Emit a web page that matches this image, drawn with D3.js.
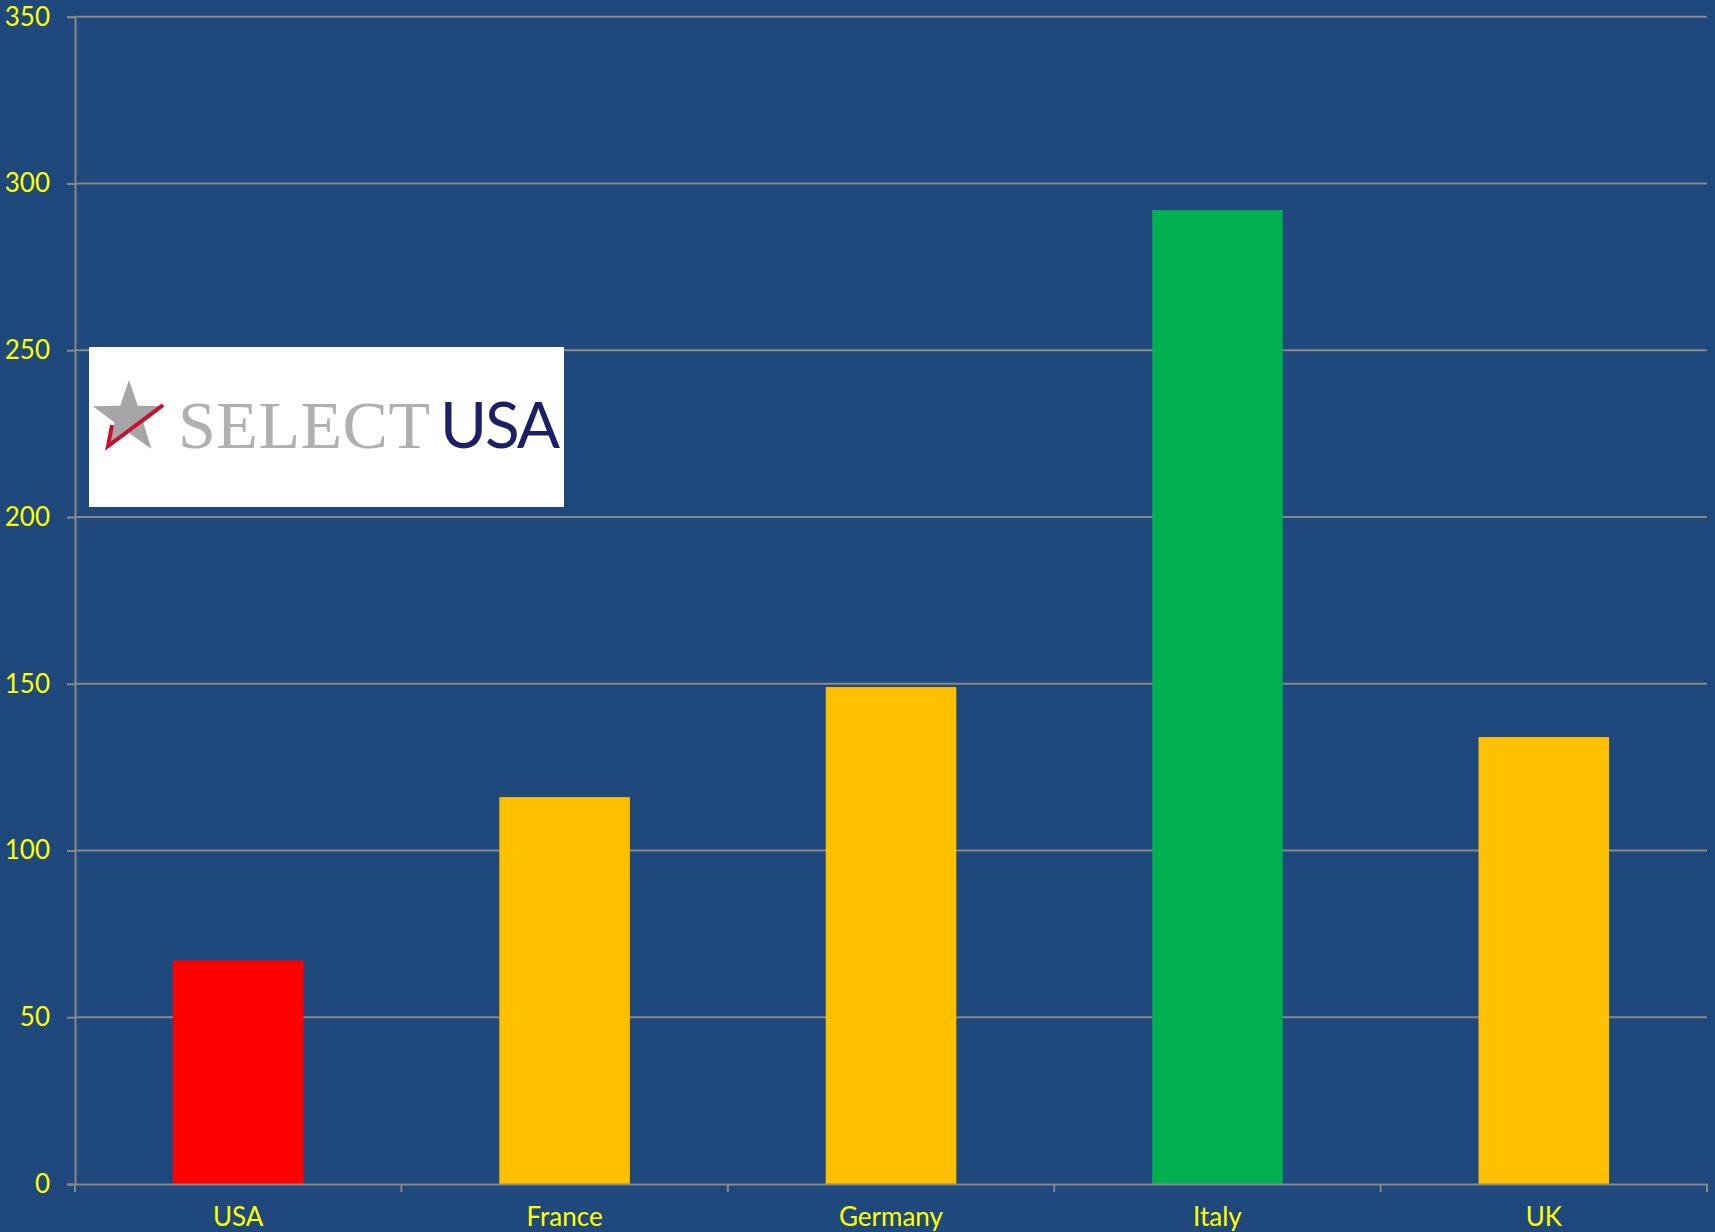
<!DOCTYPE html>
<html>
<head>
<meta charset="utf-8">
<script src="https://cdn.jsdelivr.net/npm/d3@7"></script>
<style>
body { margin: 0; background: #1f497d; }
</style>
</head>
<body>
<script>
var countries = ["USA", "France", "Germany", "Italy", "UK"];
var values = [67, 116, 149, 292, 134];
var yTicks = [0, 50, 100, 150, 200, 250, 300, 350];

var barColor = { "USA": "#ff0000", "Italy": "#00b050" };

var width = 1715, height = 1232;
var margin = { top: 16.7, right: 8, bottom: 48, left: 75 };

var svg = d3.select("body").append("svg")
    .attr("width", width)
    .attr("height", height);

svg.append("rect")
    .attr("width", width)
    .attr("height", height)
    .attr("fill", "#1f497d");

var x = d3.scaleBand()
    .domain(countries)
    .range([margin.left, width - margin.right])
    .paddingInner(0.6)
    .paddingOuter(0.3);

var y = d3.scaleLinear()
    .domain([0, 350])
    .range([height - margin.bottom, margin.top]);

// gridlines + y axis
var yAxis = svg.append("g")
    .attr("transform", "translate(" + margin.left + ",0)")
    .call(d3.axisLeft(y).tickValues(yTicks).tickSize(8).tickPadding(17).tickFormat(d3.format("d")));

yAxis.select(".domain").attr("stroke", "#888").attr("stroke-width", 2);
yAxis.selectAll(".tick line").attr("stroke", "#888").attr("stroke-width", 2);
yAxis.selectAll(".tick text")
    .attr("fill", "#ffff00")
    .attr("font-family", "Lato, 'Open Sans', sans-serif")
    .attr("font-size", 26);

svg.append("g").selectAll("line")
    .data(yTicks.filter(function(d) { return d > 0; }))
    .join("line")
    .attr("x1", margin.left)
    .attr("x2", width - margin.right)
    .attr("y1", function(d) { return y(d); })
    .attr("y2", function(d) { return y(d); })
    .attr("stroke", "#888")
    .attr("stroke-width", 2);

// logo box
var logo = svg.append("g");
logo.append("rect")
    .attr("x", 89).attr("y", 347)
    .attr("width", 475).attr("height", 160)
    .attr("fill", "#ffffff");

var star = d3.range(10).map(function(i) {
  var r = i % 2 == 0 ? 38 : 15;
  var a = Math.PI * i / 5;
  return [129 + r * Math.sin(a), 418 - r * Math.cos(a)];
});
logo.append("path")
    .attr("d", d3.line()(star) + "Z")
    .attr("fill", "#a6a6a8");
logo.append("path")
    .attr("d", "M163,405 L108,446 L112,425")
    .attr("fill", "none")
    .attr("stroke", "#c8102e")
    .attr("stroke-width", 4)
    .attr("stroke-linejoin", "miter");
logo.append("text")
    .attr("x", 178).attr("y", 448)
    .attr("font-family", "'Liberation Serif', 'DejaVu Serif', serif")
    .attr("font-size", 68)
    .attr("fill", "#b0b0b2")
    .attr("textLength", 252)
    .attr("lengthAdjust", "spacing")
    .text("SELECT");
logo.append("text")
    .attr("x", 440).attr("y", 448)
    .attr("font-family", "Lato, 'Open Sans', sans-serif")
    .attr("font-size", 64)
    .attr("fill", "#1b1f66")
    .attr("textLength", 120)
    .text("USA");

// bars
svg.append("g").selectAll("rect")
    .data(countries)
    .join("rect")
    .attr("x", function(d) { return x(d); })
    .attr("width", x.bandwidth())
    .attr("y", function(d, i) { return y(values[i]); })
    .attr("height", function(d, i) { return y(0) - y(values[i]); })
    .attr("fill", function(d) { return barColor[d] || "#ffc000"; });

// x axis
var xAxis = svg.append("g")
    .attr("transform", "translate(0," + y(0) + ")")
    .call(d3.axisBottom(x).tickSize(0).tickPadding(24));

xAxis.select(".domain").attr("stroke", "#888").attr("stroke-width", 2);
xAxis.selectAll(".tick text")
    .attr("fill", "#ffff00")
    .attr("font-family", "Lato, 'Open Sans', sans-serif")
    .attr("font-size", 26);

// category separators
var bounds = countries.map(function(d) { return x(d) - x.step() * 0.3; });
bounds.push(width - margin.right);
xAxis.selectAll(".sep")
    .data(bounds)
    .join("line")
    .attr("class", "sep")
    .attr("x1", function(d) { return d; })
    .attr("x2", function(d) { return d; })
    .attr("y1", 0)
    .attr("y2", 8)
    .attr("stroke", "#888")
    .attr("stroke-width", 2);
</script>
</body>
</html>
